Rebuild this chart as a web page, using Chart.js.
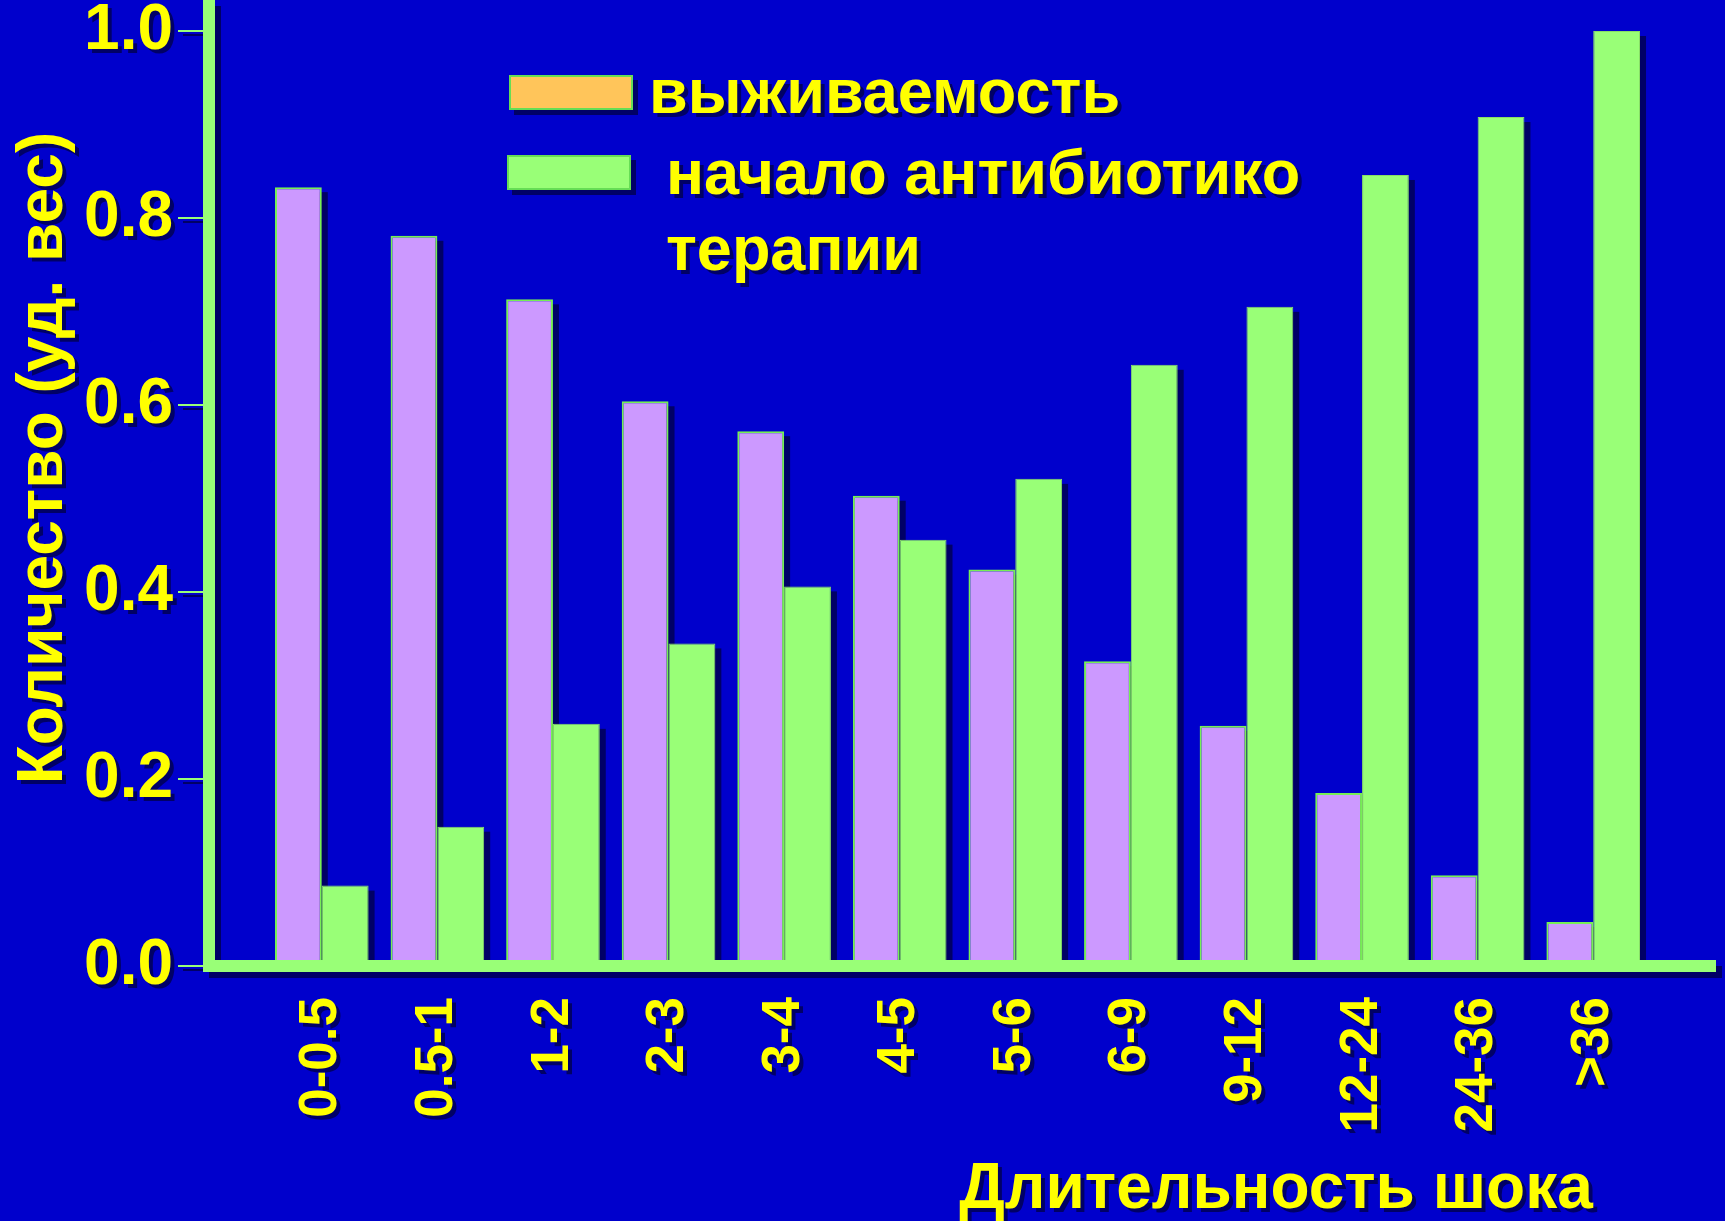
<!DOCTYPE html>
<html>
<head>
<meta charset="utf-8">
<title>Длительность шока</title>
<script src="https://cdn.jsdelivr.net/npm/chart.js@4/dist/chart.umd.min.js"></script>
<style>
  html, body { margin: 0; padding: 0; background: #0000cc; }
  #shockChart { display: block; }
</style>
</head>
<body>
<canvas id="shockChart" width="1725" height="1221"></canvas>
<script>
// shock duration groups (hours)
const durations = ['0-0.5', '0.5-1', '1-2', '2-3', '3-4', '4-5', '5-6', '6-9', '9-12', '12-24', '24-36', '>36'];
const survival = [0.833, 0.781, 0.713, 0.604, 0.572, 0.503, 0.424, 0.326, 0.257, 0.185, 0.097, 0.047];
const antibioticStart = [0.086, 0.149, 0.259, 0.345, 0.406, 0.456, 0.521, 0.643, 0.705, 0.846, 0.908, 1.0];
const yTicks = [0, 0.2, 0.4, 0.6, 0.8, 1.0];
const seriesNames = ['выживаемость', 'начало антибиотико терапии'];
const legendLines = [['выживаемость'], ['начало антибиотико', 'терапии']];
const yTitle = 'Количество (уд. вес)';
const xTitle = 'Длительность шока';

const FONT = '"Liberation Sans", Arial, sans-serif';
const YELLOW = '#ffff00';
const GREEN = '#99ff77';
const LILAC = '#cc99ff';
const SHADOW = '#000066';
const swatchColors = ['#ffc55a', GREEN];

function setShadow(ctx, dx, dy) {
  ctx.shadowColor = SHADOW;
  ctx.shadowOffsetX = dx;
  ctx.shadowOffsetY = dy;
  ctx.shadowBlur = 0;
}

function noScalePadding(scale) {
  scale.paddingTop = 0;
  scale.paddingBottom = 0;
  scale.paddingLeft = 0;
  scale.paddingRight = 0;
}

const slideDecor = {
  id: 'slideDecor',
  beforeDraw(chart) {
    // scale labels are drawn next, give them the drop shadow
    chart.ctx.save();
    setShadow(chart.ctx, 4, 4);
  },
  beforeDatasetsDraw(chart) {
    const ctx = chart.ctx;
    ctx.restore();
    // flat shadows behind every bar
    ctx.save();
    ctx.fillStyle = SHADOW;
    chart.data.datasets.forEach((ds, i) => {
      chart.getDatasetMeta(i).data.forEach(bar => {
        const p = bar.getProps(['x', 'y', 'base', 'width'], true);
        ctx.fillRect(p.x - p.width / 2 + 6, p.y + 5, p.width, p.base - p.y);
      });
    });
    ctx.restore();
  },
  afterDatasetsDraw(chart) {
    const ctx = chart.ctx;
    const area = chart.chartArea;
    const yScale = chart.scales.y;
    const axisX = area.left - 55;
    ctx.save();
    ctx.fillStyle = GREEN;
    setShadow(ctx, 5, 4);
    yTicks.forEach(v => {
      const py = yScale.getPixelForValue(v);
      ctx.fillRect(axisX - 31, py - 1, 25, 2);
    });
    setShadow(ctx, 6, 6);
    ctx.fillRect(axisX - 6, 0, 12, area.bottom + 6);
    ctx.fillRect(axisX - 6, area.bottom - 6, chart.width - 9 - (axisX - 6), 12);
    ctx.restore();
  },
  afterDraw(chart) {
    const ctx = chart.ctx;
    ctx.save();

    // legend
    const boxes = [[509, 75], [507, 155]];
    const textX = [649, 666];
    const baselines = [[113], [194, 270]];
    legendLines.forEach((lines, i) => {
      const [bx, by] = boxes[i];
      setShadow(ctx, 5, 5);
      ctx.fillStyle = swatchColors[i];
      ctx.fillRect(bx, by, 124, 35);
      setShadow(ctx, 0, 0);
      ctx.strokeStyle = '#66dd55';
      ctx.lineWidth = 2;
      ctx.strokeRect(bx + 1, by + 1, 122, 33);
      setShadow(ctx, 4, 4);
      ctx.fillStyle = YELLOW;
      ctx.font = 'bold 63px ' + FONT;
      ctx.textAlign = 'left';
      ctx.textBaseline = 'alphabetic';
      lines.forEach((t, j) => ctx.fillText(t, textX[i], baselines[i][j]));
    });

    // axis titles
    ctx.font = 'bold 64px ' + FONT;
    ctx.fillStyle = YELLOW;
    setShadow(ctx, 4, 4);
    ctx.textAlign = 'center';
    ctx.textBaseline = 'alphabetic';
    ctx.fillText(xTitle, 1276, 1208);

    ctx.translate(44, 458);
    ctx.rotate(-Math.PI / 2);
    ctx.textBaseline = 'middle';
    ctx.fillText(yTitle, 0, 0);
    ctx.restore();
  }
};

new Chart(document.getElementById('shockChart'), {
  type: 'bar',
  data: {
    labels: durations,
    datasets: [{
      label: seriesNames[0],
      data: survival,
      backgroundColor: LILAC,
      borderColor: '#77ee55',
      borderWidth: 2
    }, {
      label: seriesNames[1],
      data: antibioticStart,
      backgroundColor: GREEN,
      borderColor: '#88dd66',
      borderWidth: 1
    }]
  },
  options: {
    responsive: false,
    animation: false,
    devicePixelRatio: 1,
    layout: { padding: { top: 31, right: 74, left: 0, bottom: 0 } },
    datasets: {
      bar: { categoryPercentage: 0.81, barPercentage: 1.0 }
    },
    plugins: {
      legend: { display: false },
      tooltip: { enabled: false }
    },
    scales: {
      x: {
        grid: { display: false, drawTicks: false },
        border: { display: false },
        ticks: {
          color: YELLOW,
          font: { family: FONT, size: 53, weight: 'bold' },
          minRotation: 90,
          maxRotation: 90,
          autoSkip: false,
          padding: 31
        },
        afterFit(scale) {
          scale.height = 255;
          noScalePadding(scale);
        }
      },
      y: {
        min: 0,
        max: 1.0,
        grid: { display: false, drawTicks: false },
        border: { display: false },
        ticks: {
          color: YELLOW,
          font: { family: FONT, size: 64, weight: 'bold' },
          padding: 91,
          callback: v => Number(v).toFixed(1)
        },
        afterBuildTicks(scale) { scale.ticks = yTicks.map(v => ({ value: v })); },
        afterFit(scale) {
          scale.width = 264;
          noScalePadding(scale);
        }
      }
    }
  },
  plugins: [slideDecor]
});
</script>
</body>
</html>
